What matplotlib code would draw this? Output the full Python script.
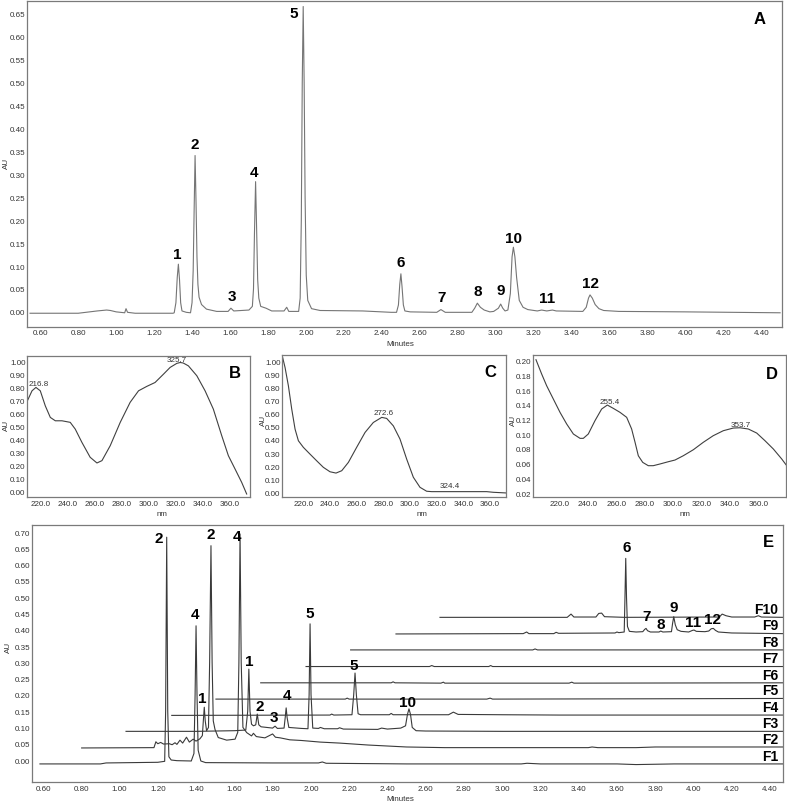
import matplotlib.pyplot as plt
from matplotlib.ticker import FormatStrFormatter, MultipleLocator

W, H = 787, 804
plt.rcParams['font.family'] = ['Liberation Sans', 'DejaVu Sans']

# ---------------- A: chromatogram of the extract ----------------
a_min = [0.546, 0.80, 0.90, 0.95, 0.97, 1.00, 1.045, 1.052, 1.06, 1.10, 1.30,
         1.306, 1.315, 1.322, 1.328, 1.334, 1.340, 1.347, 1.37,
         1.392, 1.400, 1.406, 1.411, 1.416, 1.421, 1.426, 1.431, 1.437, 1.45, 1.476, 1.53,
         1.59, 1.605, 1.62, 1.70, 1.718, 1.724, 1.729, 1.735, 1.740, 1.746, 1.752, 1.762,
         1.79, 1.82,
         1.885, 1.899, 1.91, 1.962, 1.970, 1.976, 1.981, 1.986, 1.991, 1.996, 2.002, 2.01,
         2.03, 2.075,
         2.30, 2.45, 2.478, 2.488, 2.495, 2.501, 2.507, 2.514, 2.522, 2.55,
         2.69, 2.712, 2.735, 2.875, 2.89, 2.904, 2.92, 2.94, 2.97,
         2.99, 3.015, 3.027, 3.038, 3.05, 3.065, 3.078, 3.087, 3.094, 3.102, 3.111,
         3.125, 3.145, 3.17, 3.22, 3.243, 3.27, 3.30, 3.32,
         3.46, 3.478, 3.49, 3.498, 3.51, 3.525, 3.545, 3.57, 3.65, 4.00, 4.50]
a_au = [-0.003, -0.003, 0.002, 0.004, 0.003, 0.000, -0.002, 0.007, -0.001, -0.003, -0.003,
        -0.002, 0.020, 0.075, 0.104, 0.070, 0.020, 0.002, -0.001,
        -0.002, 0.020, 0.090, 0.220, 0.341, 0.240, 0.120, 0.060, 0.032, 0.016, 0.006, 0.001,
        0.001, 0.008, 0.002, 0.004, 0.012, 0.050, 0.170, 0.284, 0.190, 0.070, 0.030, 0.012,
        0.008, 0.002,
        0.002, 0.010, 0.001, 0.001, 0.030, 0.200, 0.500, 0.666, 0.500, 0.250, 0.080, 0.025,
        0.007, 0.003,
        0.002, -0.001, -0.001, 0.015, 0.060, 0.083, 0.055, 0.015, 0.002, 0.000,
        -0.001, 0.005, -0.001, -0.001, 0.008, 0.019, 0.010, 0.004, 0.000,
        0.001, 0.008, 0.017, 0.008, 0.002, 0.004, 0.040, 0.120, 0.141, 0.120, 0.075,
        0.025, 0.010, 0.005, 0.002, 0.004, 0.002, 0.004, 0.002,
        0.001, 0.010, 0.030, 0.037, 0.030, 0.016, 0.007, 0.003, 0.001, 0.000, -0.002]
a_labels = ['1', '2', '3', '4', '5', '6', '7', '8', '9', '10', '11', '12']
a_label_min = [1.321, 1.416, 1.611, 1.727, 1.937, 2.501, 2.717, 2.907, 3.028, 3.092, 3.271, 3.498]
a_label_au = [0.126, 0.366, 0.035, 0.305, 0.652, 0.109, 0.032, 0.046, 0.048, 0.161, 0.030, 0.063]

# ---------------- B, C, D: UV spectra ----------------
b_nm = [210.7, 213.9, 216.8, 220.0, 223.7, 227.4, 231.1, 236.0, 242.1, 245.8, 250.7,
        256.8, 261.8, 265.5, 271.6, 279.0, 286.3, 292.5, 298.6, 304.7, 310.9, 315.8,
        320.7, 323.2, 325.5, 329.3, 335.5, 341.6, 347.7, 353.9, 358.8, 363.7, 368.6, 372.3]
b_au = [0.702, 0.774, 0.800, 0.774, 0.658, 0.569, 0.543, 0.543, 0.531, 0.479, 0.377,
        0.262, 0.218, 0.236, 0.351, 0.531, 0.685, 0.774, 0.808, 0.838, 0.902, 0.954,
        0.985, 0.992, 0.988, 0.966, 0.890, 0.774, 0.633, 0.428, 0.274, 0.172, 0.069, -0.021]
b_max_text = ['216.8', '325.7']
b_max_nm = [218.7, 320.6]
b_max_au = [0.83, 1.012]

c_nm = [204.5, 206.3, 208.8, 211.3, 213.8, 216.3, 220.0, 225.0, 230.0, 235.0, 240.0,
        244.5, 248.8, 253.8, 260.0, 266.3, 272.5, 278.8, 282.5, 287.5, 292.5, 297.5,
        302.5, 307.5, 312.5, 316.3, 337.5, 357.5, 362.5, 372.0]
c_au = [1.030, 0.954, 0.814, 0.636, 0.483, 0.394, 0.344, 0.292, 0.241, 0.191, 0.157,
        0.147, 0.165, 0.229, 0.344, 0.458, 0.534, 0.573, 0.565, 0.508, 0.407, 0.254,
        0.115, 0.038, 0.008, 0.005, 0.005, 0.005, 0.000, -0.005]
c_max_text = ['272.6', '324.4']
c_max_nm = [280.5, 329.5]
c_max_au = [0.61, 0.05]

d_nm = [203.6, 207.6, 211.1, 215.8, 220.5, 225.2, 229.9, 234.6, 236.9, 240.4, 245.1,
        249.8, 253.8, 258.0, 262.7, 267.4, 270.9, 273.3, 275.6, 278.7, 282.6, 286.1,
        290.8, 296.7, 301.4, 307.2, 314.3, 321.3, 328.3, 335.4, 342.4, 347.1, 353.0,
        358.9, 364.7, 370.6, 376.5, 379.5]
d_au = [0.2014, 0.1819, 0.1660, 0.1479, 0.1298, 0.1139, 0.1003, 0.0944, 0.0944, 0.1003,
        0.1184, 0.1343, 0.1397, 0.1352, 0.1298, 0.1230, 0.1071, 0.0890, 0.0707, 0.0617,
        0.0572, 0.0572, 0.0595, 0.0626, 0.0649, 0.0707, 0.0789, 0.0890, 0.0980, 0.1048,
        0.1084, 0.1088, 0.1071, 0.1016, 0.0912, 0.0799, 0.0663, 0.0585]
d_max_text = ['255.4', '353.7']
d_max_nm = [255.7, 347.6]
d_max_au = [0.1442, 0.1139]

# ---------------- E: fractions F1-F10 (stacked) ----------------
f1_min = [0.584, 0.90, 0.93, 1.20, 1.236, 1.241, 1.2466, 1.252, 1.258, 1.27, 1.30,
          1.375, 1.389, 1.395, 1.400, 1.405, 1.411, 1.425, 1.45, 1.80, 2.04, 2.06,
          2.08, 2.50, 3.10, 3.13, 3.20, 3.60, 3.70, 3.90, 4.468]
f1_au = [-0.012, -0.012, -0.009, -0.007, -0.004, 0.150, 0.684, 0.150, 0.010, 0.000, -0.002,
         -0.003, 0.020, 0.200, 0.412, 0.200, 0.030, -0.003, -0.008, -0.009, -0.009, -0.006,
         -0.010, -0.012, -0.012, -0.010, -0.012, -0.012, -0.014, -0.012, -0.012]
f2_min = [0.802, 1.18, 1.19, 1.20, 1.215, 1.23, 1.26, 1.275, 1.29, 1.30, 1.316, 1.33,
          1.35, 1.365, 1.385, 1.40, 1.42, 1.433, 1.438, 1.443, 1.448, 1.455, 1.465, 1.471,
          1.478, 1.484, 1.49, 1.499, 1.516, 1.56, 1.604, 1.618, 1.624, 1.630, 1.636,
          1.645, 1.665, 1.69, 1.70, 1.715, 1.76, 1.80, 1.815, 1.84, 1.89, 1.95, 2.05,
          2.15, 2.30, 2.50, 2.70, 3.00, 3.45, 3.47, 3.50, 3.70, 3.80, 4.20, 4.468]
f2_au = [0.037, 0.038, 0.056, 0.050, 0.054, 0.049, 0.050, 0.047, 0.053, 0.048, 0.061, 0.052,
         0.070, 0.055, 0.064, 0.058, 0.065, 0.075, 0.120, 0.162, 0.120, 0.090, 0.100, 0.300,
         0.658, 0.300, 0.120, 0.094, 0.069, 0.061, 0.064, 0.085, 0.300, 0.694, 0.300,
         0.100, 0.084, 0.074, 0.082, 0.072, 0.068, 0.080, 0.070, 0.068, 0.062, 0.060, 0.055,
         0.052, 0.046, 0.040, 0.038, 0.038, 0.038, 0.040, 0.038, 0.038, 0.040, 0.040, 0.040]
f3_min = [1.034, 1.40, 1.60, 1.66, 1.670, 1.676, 1.682, 1.69, 1.70, 1.712, 1.720, 1.728,
          1.74, 1.80, 1.813, 1.825, 1.86, 1.866, 1.871, 1.876, 1.885, 1.95, 1.985, 1.991,
          1.996, 2.001, 2.01, 2.04, 2.05, 2.07, 2.14, 2.15, 2.17, 2.35, 2.37, 2.40, 2.47,
          2.495, 2.505, 2.513, 2.521, 2.53, 2.55, 2.60, 3.00, 4.468]
f3_au = [0.088, 0.088, 0.090, 0.092, 0.150, 0.279, 0.150, 0.110, 0.105, 0.108, 0.141, 0.108,
         0.102, 0.098, 0.104, 0.097, 0.098, 0.130, 0.160, 0.130, 0.100, 0.097, 0.096, 0.200,
         0.418, 0.200, 0.098, 0.097, 0.100, 0.096, 0.096, 0.099, 0.095, 0.094, 0.098, 0.095,
         0.098, 0.105, 0.140, 0.157, 0.140, 0.100, 0.090, 0.089, 0.088, 0.088]
f4_min = [1.273, 2.10, 2.109, 2.12, 2.215, 2.224, 2.231, 2.238, 2.247, 2.26, 2.41, 2.42,
          2.43, 2.72, 2.745, 2.77, 3.00, 3.30, 4.468]
f4_au = [0.137, 0.138, 0.141, 0.138, 0.139, 0.200, 0.267, 0.200, 0.142, 0.139, 0.139, 0.143,
         0.139, 0.139, 0.147, 0.140, 0.139, 0.138, 0.138]
f5_min = [1.504, 2.18, 2.19, 2.20, 2.92, 2.937, 2.95, 3.80, 4.468]
f5_au = [0.187, 0.187, 0.190, 0.187, 0.187, 0.190, 0.187, 0.188, 0.189]
f6_min = [1.738, 2.42, 2.43, 2.44, 2.68, 2.693, 2.70, 3.35, 3.364, 3.375, 4.468]
f6_au = [0.237, 0.237, 0.240, 0.237, 0.236, 0.239, 0.236, 0.236, 0.239, 0.236, 0.237]
f7_min = [1.975, 2.62, 2.632, 2.645, 2.93, 2.94, 2.95, 4.468]
f7_au = [0.287, 0.287, 0.290, 0.287, 0.287, 0.290, 0.287, 0.287]
f8_min = [2.208, 3.16, 3.172, 3.185, 4.468]
f8_au = [0.338, 0.338, 0.341, 0.338, 0.338]
f9_min = [2.445, 3.11, 3.128, 3.14, 3.27, 3.282, 3.295, 3.59, 3.60, 3.61, 3.638, 3.642,
          3.646, 3.650, 3.655, 3.665, 3.70, 3.735, 3.745, 3.752, 3.76, 3.775, 3.82, 3.829,
          3.84, 3.885, 3.891, 3.897, 3.905, 3.915, 3.935, 3.975, 3.995, 4.003, 4.015, 4.06,
          4.08, 4.093, 4.104, 4.115, 4.13, 4.20, 4.468]
f9_au = [0.387, 0.388, 0.393, 0.388, 0.388, 0.392, 0.389, 0.390, 0.393, 0.391, 0.393, 0.500,
         0.619, 0.500, 0.410, 0.395, 0.393, 0.394, 0.401, 0.404, 0.397, 0.393, 0.393, 0.396,
         0.393, 0.394, 0.420, 0.440, 0.415, 0.400, 0.395, 0.393, 0.398, 0.399, 0.395, 0.394,
         0.396, 0.403, 0.404, 0.398, 0.393, 0.390, 0.388]
f10_min = [2.675, 3.34, 3.36, 3.375, 3.49, 3.505, 3.52, 3.535, 3.64, 4.135, 4.15, 4.17,
           4.20, 4.32, 4.339, 4.355, 4.468]
f10_au = [0.438, 0.438, 0.448, 0.439, 0.439, 0.450, 0.451, 0.440, 0.438, 0.439, 0.448, 0.443,
          0.439, 0.439, 0.443, 0.439, 0.438]
fractions = ['F1', 'F2', 'F3', 'F4', 'F5', 'F6', 'F7', 'F8', 'F9', 'F10']
e_labels = ['2', '4', '1', '2', '4', '1', '2', '3', '4', '5', '5', '10',
            '6', '7', '8', '9', '11', '12']
e_label_min = [1.203, 1.395, 1.435, 1.478, 1.616, 1.678, 1.734, 1.808, 1.877, 1.992, 2.226, 2.504,
               3.651, 3.756, 3.831, 3.895, 3.996, 4.099]
e_label_au = [0.681, 0.448, 0.189, 0.694, 0.689, 0.303, 0.167, 0.131, 0.200, 0.451, 0.292, 0.177,
              0.653, 0.443, 0.418, 0.469, 0.425, 0.433]

fig = plt.figure(figsize=(W / 100, H / 100), dpi=100)
fig.patch.set_facecolor('white')

TXT = '#333333'


def add_ax(l, t, r, b):
    # axes from a pixel box (left, top, right, bottom)
    return fig.add_axes([l / W, 1 - b / H, (r - l) / W, (b - t) / H])


def style(ax, xfmt, yfmt, xstep, ystep, xpad):
    for s in ax.spines.values():
        s.set_color('#7a7a7a')
        s.set_linewidth(0.9)
    ax.tick_params(length=0, labelsize=5.8, labelcolor=TXT)
    ax.tick_params(axis='x', pad=xpad)
    ax.tick_params(axis='y', pad=1)
    ax.xaxis.set_major_locator(MultipleLocator(xstep))
    ax.yaxis.set_major_locator(MultipleLocator(ystep))
    ax.xaxis.set_major_formatter(FormatStrFormatter(xfmt))
    ax.yaxis.set_major_formatter(FormatStrFormatter(yfmt))


def ptext(x, y, s, **kw):
    fig.text(x / W, 1 - y / H, s, color=TXT, fontsize=5.8, ha='center', va='center', **kw)


# ---- A ----
axA = add_ax(27, 2, 782, 328)
axA.plot(a_min, a_au, color='#757575', lw=0.8)
axA.set_xlim(0.53, 4.51)
axA.set_ylim(-0.033, 0.678)
style(axA, '%.2f', '%.2f', 0.2, 0.05, 1.5)
axA.set_xticks([0.6 + 0.2 * i for i in range(20)])
for s, x, y in zip(a_labels, a_label_min, a_label_au):
    axA.text(x, y, s, ha='center', va='center', fontsize=11, fontweight='bold')
axA.text(4.394, 0.639, 'A', ha='center', va='center', fontsize=12, fontweight='bold')
ptext(400, 344, 'Minutes')
ptext(6, 163, 'AU', rotation=90)

# ---- B, C, D ----
spectra = [
    ((27, 357, 250, 498), b_nm, b_au, b_max_text, b_max_nm, b_max_au, (210.2, 374.75),
     (-0.044, 1.042), 0.1, 'B', (363.7, 0.918), (162, 515), (6, 425)),
    ((282, 356, 506, 498), c_nm, c_au, c_max_text, c_max_nm, c_max_au, (204.0, 372.0),
     (-0.036, 1.05), 0.1, 'C', (360.0, 0.926), (422, 515), (263, 420)),
    ((533, 356, 786, 498), d_nm, d_au, d_max_text, d_max_nm, d_max_au, (201.5, 379.5),
     (0.0146, 0.2078), 0.02, 'D', (369.6, 0.182), (685, 515), (513, 420)),
]
for box, nm, au, mt, mx, my, xl, yl, ystep, letter, lpos, nmpos, aupos in spectra:
    ax = add_ax(*box)
    ax.plot(nm, au, color='#404040', lw=0.8)
    ax.set_xlim(*xl)
    ax.set_ylim(*yl)
    style(ax, '%.1f', '%.2f', 20, ystep, 2.5)
    ax.set_xticks([220 + 20 * i for i in range(8)])
    for s, x, y in zip(mt, mx, my):
        ax.text(x, y, s, ha='center', va='center', fontsize=5.8, color=TXT)
    ax.text(lpos[0], lpos[1], letter, ha='center', va='center', fontsize=12, fontweight='bold')
    ptext(nmpos[0], nmpos[1], 'nm')
    ptext(aupos[0], aupos[1], 'AU', rotation=90)

# ---- E ----
axE = add_ax(32, 526, 783, 783)
traces = [(f1_min, f1_au), (f2_min, f2_au), (f3_min, f3_au), (f4_min, f4_au),
          (f5_min, f5_au), (f6_min, f6_au), (f7_min, f7_au), (f8_min, f8_au),
          (f9_min, f9_au), (f10_min, f10_au)]
for name, (t, v) in zip(fractions, traces):
    axE.plot(t, v, color='#3a3a3a', lw=0.8)
    axE.text(4.442, v[-1] + 0.025, name, ha='right', va='center', fontsize=10,
             fontweight='bold')
axE.set_xlim(0.5425, 4.468)
axE.set_ylim(-0.0675, 0.7215)
style(axE, '%.2f', '%.2f', 0.2, 0.05, 2.5)
axE.set_xticks([0.6 + 0.2 * i for i in range(20)])
axE.set_yticks([0.05 * i for i in range(15)])
for s, x, y in zip(e_labels, e_label_min, e_label_au):
    axE.text(x, y, s, ha='center', va='center', fontsize=11, fontweight='bold')
axE.text(4.391, 0.670, 'E', ha='center', va='center', fontsize=12, fontweight='bold')
ptext(400, 800, 'Minutes')
ptext(8, 647, 'AU', rotation=90)

fig.savefig('out.png', dpi=100)
